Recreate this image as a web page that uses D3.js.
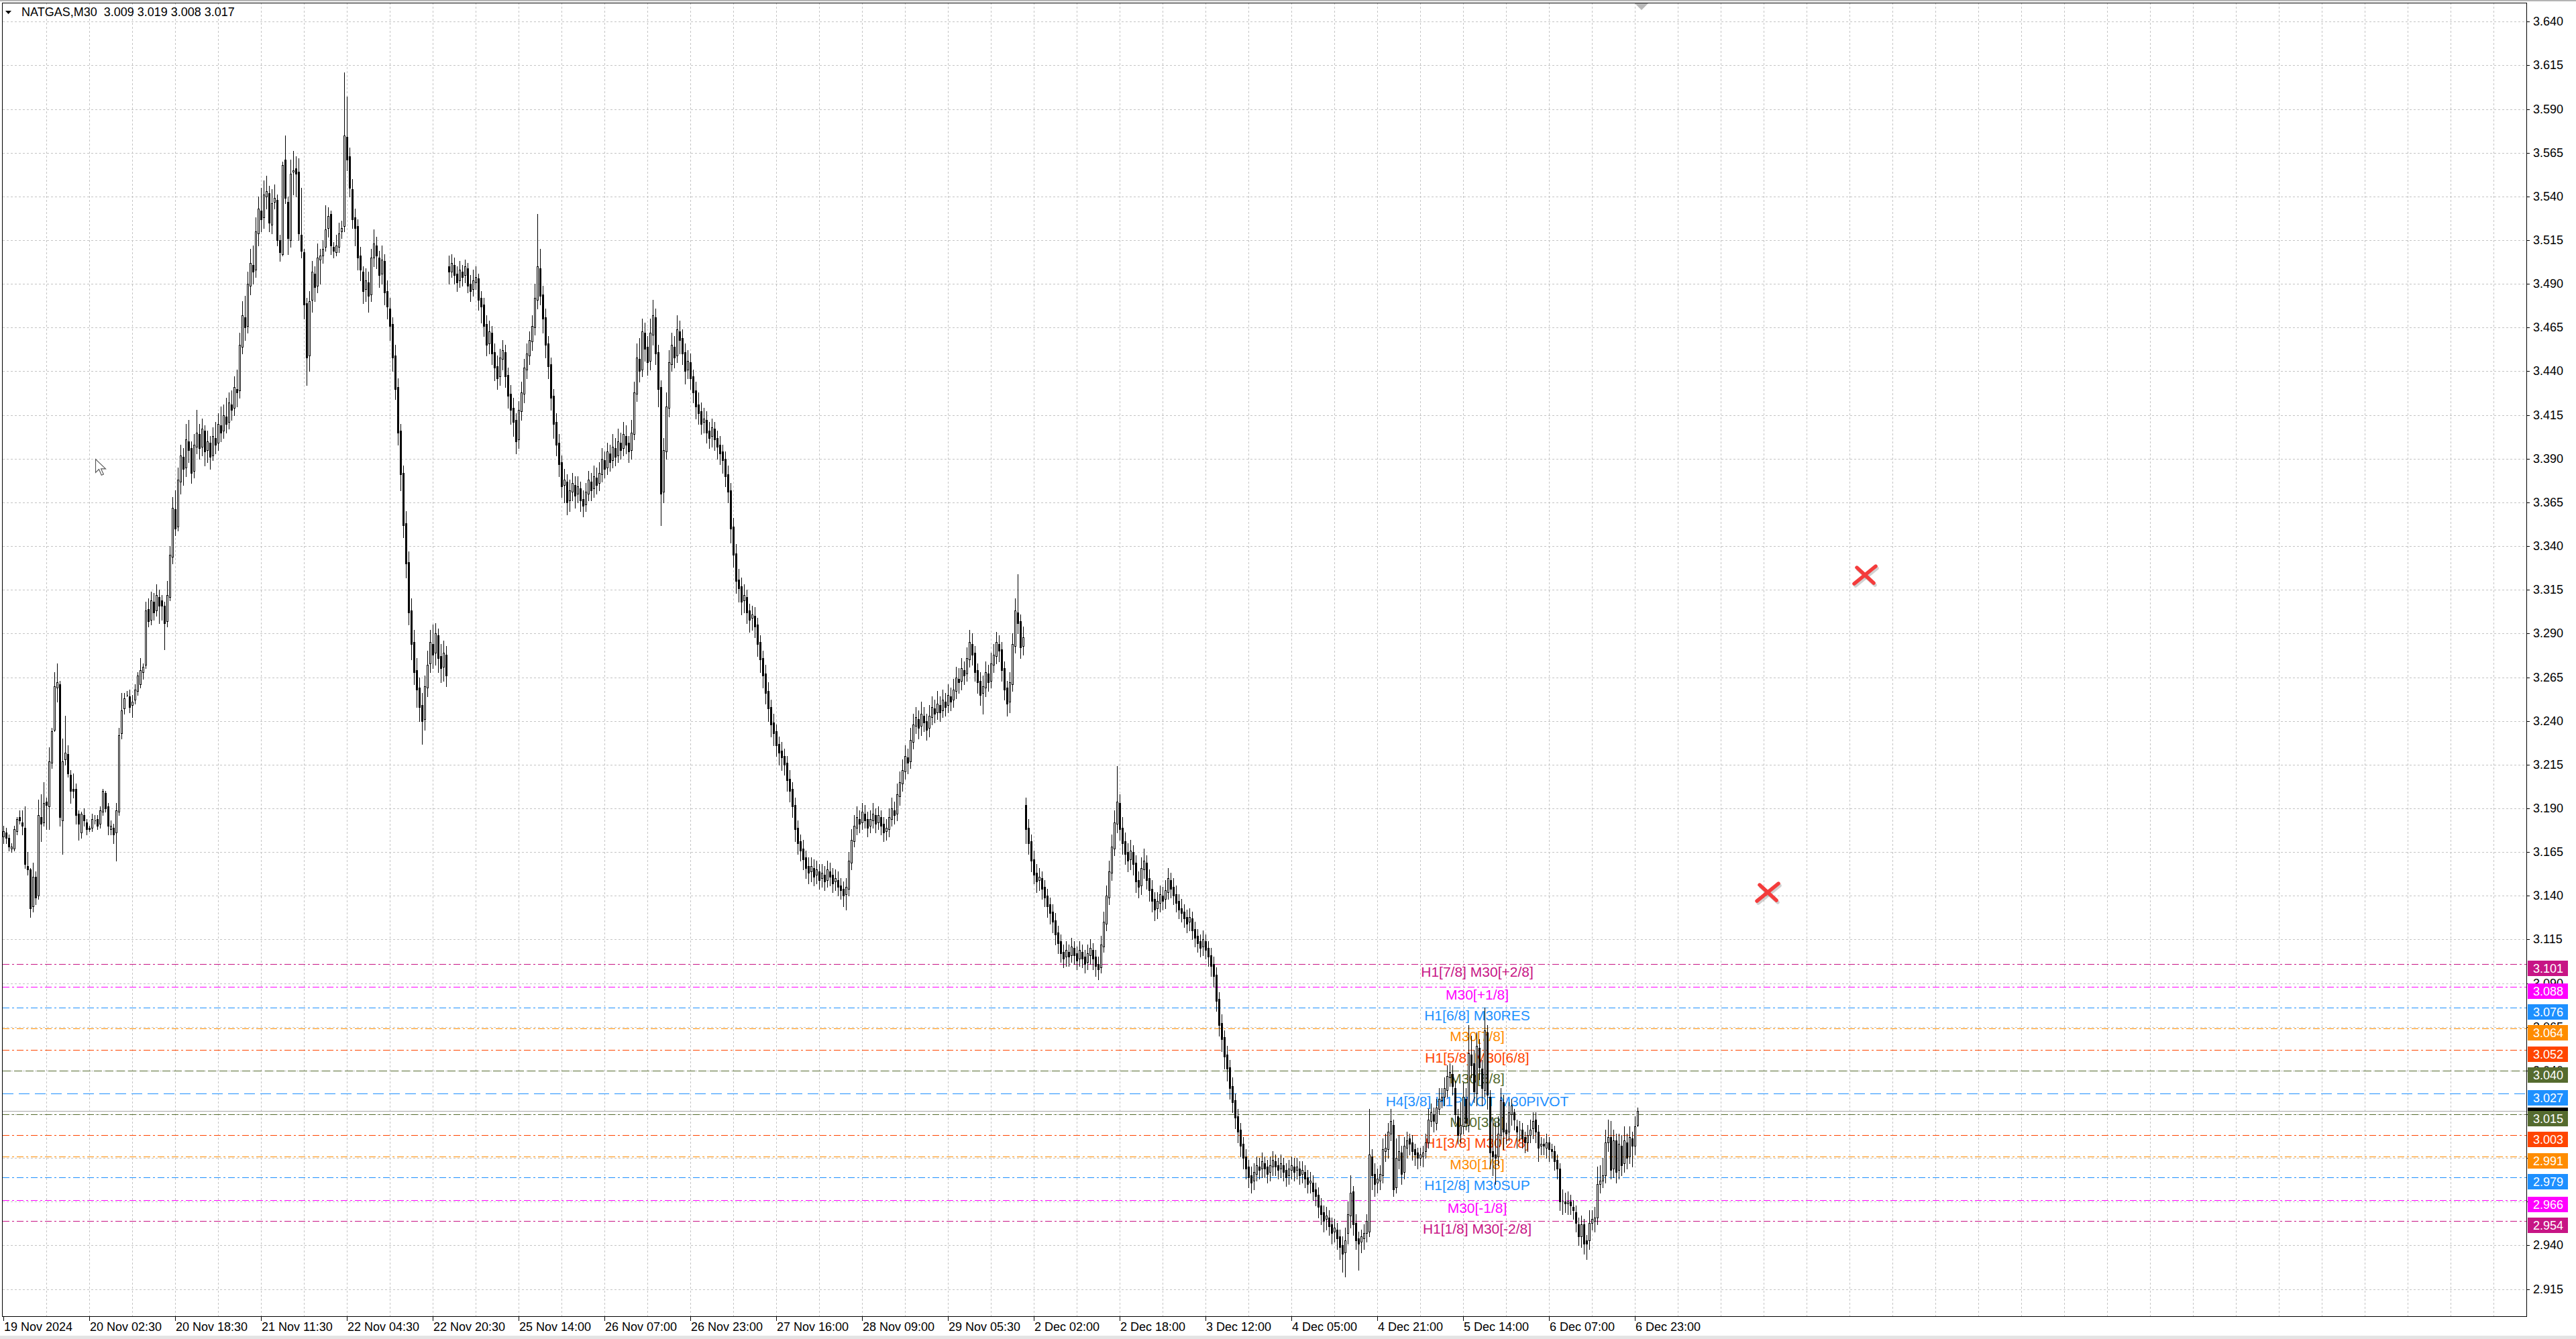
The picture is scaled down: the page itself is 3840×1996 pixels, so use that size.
<!DOCTYPE html>
<html><head><meta charset="utf-8">
<script src="https://cdn.jsdelivr.net/npm/d3@7"></script>
<style>html,body{margin:0;padding:0;background:#fff;overflow:hidden}</style>
</head><body><svg id="c" width="3840" height="1996"></svg>
<script>
// ---------- DATA (prices in thousandths) ----------
const symbolTitle = "NATGAS,M30  3.009 3.019 3.008 3.017";
const opens = [
3174,3176,3173,3167,3167,3177,3185,3182,3179,3157,
3155,3134,3151,3140,3185,3182,3194,3191,3216,3235,
3259,3261,3183,3218,3221,3209,3201,3201,3187,3176,
3186,3182,3179,3179,3183,3184,3181,3188,3199,3191,
3178,3179,3176,3188,3233,3247,3255,3254,3249,3252,
3257,3261,3268,3272,3304,3298,3308,3303,3311,3309,
3306,3297,3311,3334,3361,3351,3377,3391,3385,3400,
3396,3383,3397,3404,3397,3406,3395,3399,3392,3402,
3399,3409,3406,3414,3411,3421,3419,3430,3429,3454,
3471,3466,3489,3501,3498,3519,3532,3528,3540,3542,
3524,3537,3538,3515,3507,3561,3537,3515,3554,3556,
3554,3518,3508,3479,3449,3481,3496,3489,3504,3506,
3511,3522,3530,3511,3508,3511,3520,3523,3574,3563,
3544,3528,3523,3506,3497,3487,3491,3484,3505,3512,
3505,3496,3503,3486,3476,3467,3449,3431,3406,3382,
3353,3331,3303,3285,3269,3259,3249,3241,3259,3273,
3284,3279,3289,3277,3271,3278,
3500,3497,3501,3496,3492,3497,3495,3499,3490,3487,
3491,3493,3482,3478,3467,3456,3462,3451,3443,3437,
3447,3451,3438,3427,3419,3412,3401,3417,3427,3441,
3449,3457,3465,3481,3499,3484,3471,3456,3444,3426,
3411,3399,3388,3375,3377,3366,3371,3375,3370,3373,
3367,3364,3370,3377,3373,3379,3376,3381,3389,3385,
3393,3389,3396,3392,3399,3396,3403,3399,3395,3404,
3427,3447,3441,3462,3454,3446,3461,3471,3451,3431,
3371,3394,3419,3444,3454,3449,3463,3459,3451,3441,
3445,3437,3429,3421,3417,3411,3412,3406,3403,3407,
3402,3398,3394,3390,3381,3372,3351,3336,3321,3317,
3309,3311,3303,3299,3300,3295,3285,3276,3267,3257,
3248,3239,3234,3227,3223,3220,3216,3207,3201,3192,
3179,3171,3167,3162,3157,3154,3156,3152,3154,3150,
3152,3149,3154,3152,3148,3149,3146,3144,3141,3144,
3159,3171,3179,3184,3182,3187,3184,3180,3183,3186,
3182,3185,3181,3177,3178,3184,3189,3187,3197,3204,
3211,3219,3217,3228,3237,3241,3237,3243,3240,3236,
3242,3247,3245,3249,3246,3251,3249,3254,3252,3257,
3264,3263,3269,3267,3275,3284,3279,3269,3263,3256,
3259,3267,3263,3272,3277,3284,3281,3270,3259,3251,
3261,3283,3302,3297,3283,
3192,3179,3171,3161,3153,3149,3150,3145,3140,3135,
3131,3126,3119,3114,3108,3105,3108,3106,3110,3107,
3104,3108,3105,3102,3106,3109,3105,3101,3099,3111,
3124,3139,3153,3167,3181,3193,3179,3171,3165,3161,
3165,3159,3149,3146,3155,3159,3150,3144,3138,3133,
3136,3140,3138,3142,3149,3145,3141,3137,3133,3131,
3128,3125,3127,3121,3117,3114,3111,3114,3110,3106,
3101,3095,3081,3067,3059,3049,3042,3031,3023,3014,
3006,2998,2991,2985,2980,2977,2981,2985,2984,2987,
2985,2982,2985,2988,2986,2984,2986,2983,2980,2983,
2985,2983,2984,2981,2982,2979,2976,2976,2972,2969,
2963,2959,2955,2956,2952,2948,2949,2945,2940,2936,
2947,2957,2971,2953,2944,2942,2944,2947,2948,2991,
2981,2976,2977,2980,2994,2995,3004,3009,2973,2989,
2993,2982,2996,3001,2999,2995,2993,2990,2991,2994,
2999,3011,3015,3010,3018,3023,3025,3029,3036,3038,
3030,3014,3004,3008,3024,3009,3049,3044,3027,3053,
3041,3029,3062,3025,2994,2992,2991,3003,3022,3006,
3005,3015,3016,3008,3006,3006,3002,2999,3003,3007,
3012,3005,2997,2998,2996,2999,2995,2994,2989,2984,
2965,2965,2964,2965,2962,2959,2952,2945,2952,2943,
2943,2953,2954,2956,2975,2977,2980,2999,3002,2984,
3000,2983,2997,2987,2999,2991,3001,2997,3009];
const highs = [
3180,3179,3175,3170,3180,3185,3189,3189,3191,3165,
3156,3159,3154,3195,3198,3205,3196,3225,3236,3268,
3273,3263,3230,3243,3226,3212,3210,3204,3189,3188,
3190,3184,3180,3187,3186,3186,3191,3201,3200,3193,
3183,3181,3193,3236,3256,3256,3257,3258,3255,3261,
3268,3276,3273,3308,3310,3314,3313,3318,3315,3312,
3308,3320,3340,3368,3372,3385,3398,3396,3410,3412,
3400,3404,3418,3410,3413,3409,3406,3403,3408,3411,
3416,3420,3421,3425,3428,3429,3437,3441,3462,3480,
3483,3497,3510,3512,3528,3540,3545,3549,3552,3546,
3544,3547,3541,3518,3560,3575,3540,3561,3566,3563,
3562,3545,3510,3482,3486,3503,3500,3513,3510,3515,
3535,3534,3532,3514,3518,3525,3526,3611,3597,3568,
3550,3533,3527,3511,3500,3499,3497,3510,3521,3517,
3509,3512,3507,3492,3482,3471,3455,3436,3410,3386,
3360,3337,3310,3292,3276,3265,3256,3266,3280,3292,
3295,3296,3293,3284,3286,3283,
3506,3507,3505,3500,3503,3501,3504,3502,3495,3498,
3500,3496,3486,3482,3472,3469,3466,3456,3449,3453,
3458,3455,3442,3432,3425,3416,3423,3434,3447,3456,
3463,3472,3490,3530,3510,3489,3476,3460,3448,3430,
3416,3404,3392,3384,3381,3378,3382,3380,3380,3377,
3372,3376,3383,3382,3386,3385,3388,3396,3394,3399,
3398,3404,3402,3407,3405,3411,3409,3403,3412,3434,
3456,3459,3470,3468,3460,3470,3481,3476,3455,3435,
3402,3428,3452,3462,3460,3472,3469,3464,3456,3452,
3450,3441,3434,3428,3422,3419,3417,3411,3413,3411,
3406,3403,3398,3394,3386,3376,3356,3341,3327,3322,
3318,3315,3307,3306,3305,3299,3289,3280,3272,3262,
3252,3244,3238,3231,3228,3224,3220,3212,3205,3196,
3183,3175,3172,3166,3162,3162,3161,3160,3158,3158,
3157,3160,3159,3156,3155,3154,3150,3148,3150,3165,
3178,3186,3191,3189,3193,3192,3188,3189,3193,3190,
3191,3189,3185,3184,3190,3196,3194,3204,3211,3218,
3226,3224,3236,3244,3248,3246,3251,3248,3244,3249,
3254,3252,3257,3254,3258,3256,3261,3259,3264,3271,
3270,3276,3274,3282,3292,3290,3283,3273,3268,3266,
3274,3272,3279,3284,3291,3289,3285,3274,3263,3268,
3290,3310,3324,3301,3294,
3196,3184,3175,3166,3158,3156,3154,3149,3144,3139,
3135,3130,3123,3118,3112,3114,3112,3116,3114,3111,
3114,3112,3109,3112,3115,3113,3109,3105,3117,3131,
3146,3160,3175,3189,3214,3198,3185,3176,3170,3172,
3169,3163,3154,3162,3167,3163,3155,3149,3142,3142,
3146,3145,3149,3156,3153,3150,3146,3141,3138,3135,
3132,3133,3131,3125,3121,3118,3120,3118,3114,3110,
3105,3099,3085,3072,3063,3054,3046,3036,3027,3018,
3010,3002,2995,2989,2985,2987,2991,2990,2993,2991,
2989,2991,2994,2992,2990,2992,2990,2987,2989,2991,
2990,2990,2988,2988,2986,2983,2982,2980,2976,2973,
2967,2963,2962,2960,2956,2955,2953,2949,2945,2950,
2965,2980,2974,2958,2948,2949,2952,2958,3018,2995,
2987,2984,2986,3001,3004,3010,3018,3012,3001,3003,
2997,3002,3005,3004,3003,2998,2996,2996,2997,3004,
3018,3021,3019,3024,3030,3030,3036,3043,3044,3043,
3034,3018,3022,3033,3030,3066,3060,3052,3062,3058,
3046,3076,3066,3029,3013,3010,3014,3030,3026,3010,
3022,3024,3018,3012,3011,3010,3005,3009,3012,3016,
3016,3009,3002,3001,3004,3002,2998,2997,2992,2987,
2972,2970,2971,2969,2966,2963,2956,2957,2955,2946,
2960,2960,2962,2985,2986,2990,3006,3012,3011,3006,
3004,3004,3003,3008,3004,3008,3005,3014,3019];
const lows = [
3170,3170,3166,3165,3166,3175,3181,3175,3156,3152,
3128,3131,3135,3138,3171,3180,3178,3178,3213,3234,
3251,3180,3164,3215,3208,3193,3196,3181,3172,3173,
3180,3175,3177,3177,3181,3178,3179,3186,3188,3175,
3175,3170,3160,3186,3230,3244,3254,3245,3242,3250,
3255,3259,3264,3270,3294,3295,3298,3300,3296,3298,
3281,3294,3309,3330,3346,3349,3370,3375,3380,3388,
3376,3379,3393,3390,3392,3386,3388,3384,3389,3393,
3395,3400,3402,3405,3407,3412,3415,3420,3425,3450,
3458,3462,3484,3490,3494,3512,3520,3522,3533,3520,
3519,3533,3512,3503,3506,3536,3507,3511,3541,3540,
3515,3505,3470,3432,3440,3474,3480,3485,3490,3502,
3509,3517,3507,3505,3506,3508,3516,3520,3555,3540,
3522,3512,3498,3492,3479,3480,3474,3480,3500,3499,
3488,3490,3478,3470,3458,3440,3424,3398,3372,3345,
3322,3295,3275,3261,3248,3240,3227,3235,3254,3268,
3270,3272,3268,3262,3263,3260,
3490,3494,3490,3486,3488,3489,3491,3485,3480,3483,
3487,3475,3468,3460,3449,3450,3444,3435,3430,3432,
3441,3431,3419,3410,3403,3393,3396,3412,3422,3436,
3444,3452,3461,3476,3478,3462,3448,3436,3418,3402,
3392,3380,3368,3365,3358,3360,3366,3362,3365,3360,
3357,3360,3366,3366,3368,3370,3372,3377,3379,3381,
3383,3385,3386,3388,3390,3392,3393,3388,3390,3401,
3423,3434,3437,3446,3438,3441,3455,3444,3420,3352,
3365,3390,3414,3440,3442,3445,3450,3444,3433,3436,
3430,3422,3413,3410,3404,3405,3399,3396,3397,3395,
3390,3387,3382,3374,3365,3342,3328,3313,3308,3301,
3302,3296,3291,3292,3288,3277,3268,3259,3250,3240,
3231,3226,3220,3215,3212,3209,3200,3194,3185,3171,
3164,3160,3155,3150,3147,3148,3146,3147,3144,3145,
3143,3145,3146,3142,3143,3140,3138,3134,3132,3140,
3155,3168,3175,3176,3178,3179,3174,3176,3179,3176,
3178,3175,3171,3172,3174,3180,3181,3183,3192,3200,
3207,3210,3213,3224,3233,3230,3232,3234,3229,3231,
3238,3239,3241,3240,3242,3243,3245,3246,3248,3253,
3256,3258,3261,3263,3271,3272,3263,3256,3249,3244,
3254,3257,3259,3268,3273,3274,3263,3252,3243,3245,
3257,3279,3290,3276,3278,
3170,3164,3154,3147,3142,3143,3138,3134,3128,3124,
3119,3112,3107,3102,3099,3100,3100,3102,3101,3098,
3100,3099,3096,3098,3101,3098,3094,3092,3096,3108,
3120,3135,3149,3163,3176,3172,3164,3158,3154,3155,
3152,3142,3139,3141,3150,3144,3137,3131,3126,3127,
3131,3132,3133,3138,3139,3135,3131,3127,3125,3122,
3119,3120,3115,3111,3108,3105,3106,3104,3100,3094,
3088,3074,3060,3051,3041,3034,3024,3016,3007,2999,
2991,2984,2978,2973,2970,2972,2977,2978,2979,2979,
2976,2977,2980,2980,2978,2979,2977,2974,2975,2978,
2977,2978,2975,2976,2973,2970,2970,2966,2963,2956,
2952,2948,2949,2946,2941,2942,2938,2932,2925,2922,
2941,2950,2946,2938,2926,2936,2938,2942,2945,2972,
2968,2970,2972,2976,2988,2990,3000,2968,2970,2984,
2975,2978,2990,2992,2989,2986,2984,2986,2985,2990,
2996,3008,3005,3006,3015,3019,3020,3025,3031,3026,
3010,2998,2999,3004,3006,3005,3036,3022,3020,3035,
3020,3025,3018,2984,2980,2975,2986,2998,2995,2998,
3000,3009,3006,2996,3000,2996,2993,2994,2999,3001,
2999,2988,2992,2992,2990,2988,2990,2983,2978,2960,
2958,2959,2958,2958,2955,2948,2940,2939,2935,2932,
2938,2949,2948,2952,2970,2973,2976,2994,2978,2979,
2976,2978,2980,2982,2984,2987,2985,2992,3008];
const closes = [
3177,3173,3168,3168,3178,3184,3183,3180,3158,3155,
3133,3151,3139,3186,3181,3193,3192,3217,3234,3260,
3262,3185,3217,3222,3210,3200,3200,3186,3181,3187,
3183,3178,3178,3184,3183,3180,3189,3200,3190,3180,
3180,3175,3189,3232,3246,3253,3255,3248,3251,3258,
3266,3269,3271,3303,3297,3309,3302,3312,3306,3306,
3296,3312,3335,3362,3350,3378,3392,3384,3401,3395,
3382,3398,3405,3396,3407,3394,3400,3391,3403,3398,
3410,3405,3415,3410,3422,3418,3431,3428,3455,3472,
3465,3490,3502,3497,3520,3533,3527,3541,3543,3525,
3536,3539,3515,3508,3558,3539,3516,3553,3555,3553,
3519,3509,3478,3448,3480,3497,3488,3505,3506,3510,
3521,3529,3512,3509,3512,3519,3522,3575,3561,3545,
3527,3522,3505,3498,3486,3492,3483,3505,3513,3506,
3495,3504,3485,3477,3466,3448,3430,3405,3381,3352,
3330,3302,3284,3268,3258,3248,3240,3260,3272,3285,
3278,3290,3276,3270,3279,3266,
3497,3502,3495,3491,3498,3494,3500,3489,3486,3492,
3494,3481,3477,3466,3455,3463,3450,3442,3436,3448,
3452,3437,3426,3418,3411,3400,3418,3428,3442,3450,
3458,3466,3482,3500,3483,3470,3455,3443,3425,3410,
3398,3387,3374,3378,3365,3372,3376,3369,3374,3366,
3363,3371,3378,3372,3380,3375,3382,3390,3384,3394,
3388,3397,3391,3400,3395,3404,3398,3394,3405,3428,
3448,3440,3463,3453,3445,3462,3472,3450,3430,3370,
3395,3420,3445,3455,3448,3464,3458,3450,3440,3446,
3436,3428,3420,3416,3410,3413,3405,3402,3408,3401,
3397,3393,3389,3380,3371,3350,3335,3320,3316,3308,
3312,3302,3298,3301,3294,3284,3275,3266,3256,3247,
3238,3233,3226,3222,3219,3215,3206,3200,3191,3178,
3170,3166,3161,3156,3153,3157,3151,3155,3149,3153,
3148,3155,3151,3147,3150,3145,3143,3140,3145,3160,
3172,3180,3185,3181,3188,3183,3179,3184,3187,3181,
3186,3180,3176,3179,3185,3190,3186,3198,3205,3212,
3220,3216,3229,3238,3242,3236,3244,3239,3235,3243,
3248,3244,3250,3245,3252,3248,3255,3251,3258,3265,
3262,3270,3266,3276,3285,3278,3268,3262,3255,3260,
3268,3262,3273,3278,3285,3280,3269,3258,3250,3262,
3284,3303,3296,3282,3288,
3178,3170,3160,3152,3148,3151,3144,3139,3134,3130,
3125,3118,3113,3107,3104,3109,3105,3111,3106,3103,
3109,3104,3101,3107,3110,3104,3100,3098,3112,3125,
3140,3154,3168,3182,3194,3178,3170,3164,3160,3166,
3158,3148,3145,3156,3160,3149,3143,3137,3132,3137,
3141,3137,3143,3150,3144,3140,3136,3132,3130,3127,
3124,3128,3120,3116,3113,3110,3115,3109,3105,3100,
3094,3080,3066,3058,3048,3041,3030,3022,3013,3005,
2997,2990,2984,2979,2976,2982,2986,2983,2988,2984,
2981,2986,2989,2985,2983,2987,2982,2979,2984,2986,
2982,2985,2980,2983,2978,2975,2977,2971,2968,2962,
2958,2954,2957,2951,2947,2950,2944,2939,2935,2943,
2958,2970,2952,2943,2941,2945,2947,2954,2992,2980,
2975,2978,2981,2995,2996,3005,3011,2972,2990,2994,
2981,2997,3000,2998,2994,2992,2990,2992,2993,2999,
3012,3016,3011,3019,3024,3025,3030,3037,3039,3031,
3015,3003,3009,3025,3010,3050,3043,3028,3054,3042,
3030,3063,3026,2993,2991,2990,3004,3023,3005,3004,
3016,3020,3012,3005,3006,3001,2999,3003,3006,3011,
3005,2996,2998,2997,2999,2995,2994,2988,2984,2965,
2965,2964,2965,2963,2960,2953,2945,2952,2941,2941,
2953,2955,2956,2975,2977,2980,2999,3002,2983,3000,
2982,2998,2986,3000,2990,3002,2997,3008,3017];

const timeLabels = ["19 Nov 2024","20 Nov 02:30","20 Nov 18:30","21 Nov 11:30","22 Nov 04:30","22 Nov 20:30","25 Nov 14:00","26 Nov 07:00","26 Nov 23:00","27 Nov 16:00","28 Nov 09:00","29 Nov 05:30","2 Dec 02:00","2 Dec 18:00","3 Dec 12:00","4 Dec 05:00","4 Dec 21:00","5 Dec 14:00","6 Dec 07:00","6 Dec 23:00"];
const timeLabelBars = [0,32,64,96,128,160,192,224,256,288,320,352,384,416,448,480,512,544,576,608];
const priceTickLabels = ["3.640","3.615","3.590","3.565","3.540","3.515","3.490","3.465","3.440","3.415","3.390","3.365","3.340","3.315","3.290","3.265","3.240","3.215","3.190","3.165","3.140","3.115","3.090","3.065","3.040","3.015","2.990","2.965","2.940","2.915"];
const levelValues = [3.101,3.088,3.076,3.064,3.052,3.040,3.027,3.015,3.003,2.991,2.979,2.966,2.954];
const levelLabels = ["H1[7/8] M30[+2/8]","M30[+1/8]","H1[6/8] M30RES","M30[7/8]","H1[5/8] M30[6/8]","M30[5/8]","H4[3/8] H1PIVOT M30PIVOT","M30[3/8]","H1[3/8] M30[2/8]","M30[1/8]","H1[2/8] M30SUP","M30[-1/8]","H1[1/8] M30[-2/8]"];
const currentPrice = 3.017;
const markerBars = [693.75, 657.5];
const markerPrices = [3.3235, 3.142];

// ---------- STYLE ----------
const levelColors = ["#C71585","#FF00FF","#1E90FF","#FF8C00","#FF4500","#556B2F","#1E90FF","#556B2F","#FF4500","#FF8C00","#1E90FF","#FF00FF","#C71585"];
const DD = "10,4,3,4", DA = "12,5", LD = "16,8";
const levelDash = [DD,DD,DD,DD,DD,DA,LD,DD,DD,DD,DD,DD,DD];
const AX_FONT = "'Liberation Sans', Arial, sans-serif";

// ---------- LAYOUT ----------
const W = 3840, H = 1996;
const plotL = 4, plotR = 3766, plotT = 4, plotB = 1962;
const xs = d3.scaleLinear().domain([0, 1]).range([5, 9]);          // 4 px per bar
const ys = d3.scaleLinear().domain([2.915, 3.640]).range([1921.6, 32.3]);
const svg = d3.select("#c");
svg.append("rect").attr("width", W).attr("height", H).attr("fill", "#fff");
svg.append("rect").attr("x",0).attr("y",0).attr("width",W).attr("height",2).attr("fill","#b4b4b4");
svg.append("rect").attr("x",0).attr("y",1991).attr("width",W).attr("height",5).attr("fill","#e4e4e4");

svg.append("defs").append("clipPath").attr("id","pc").append("rect")
  .attr("x", plotL).attr("y", plotT).attr("width", plotR - plotL).attr("height", plotB - plotT);
const plot = svg.append("g").attr("clip-path","url(#pc)");

// grid
const gridG = plot.append("g").attr("stroke","#c4c4c4").attr("stroke-width",1).attr("stroke-dasharray","3,3").attr("shape-rendering","crispEdges");
priceTickLabels.forEach(t => {
  const yy = Math.round(ys(+t)) + 0.5;
  gridG.append("line").attr("x1", plotL).attr("x2", plotR).attr("y1", yy).attr("y2", yy);
});
for (let b = 16; xs(b) < plotR; b += 16) {
  const xx = Math.round(xs(b)) + 0.5;
  gridG.append("line").attr("x1", xx).attr("x2", xx).attr("y1", plotT).attr("y2", plotB);
}

// level lines
levelValues.forEach((v, k) => {
  const yy = Math.round(ys(v)) + 0.5;
  plot.append("line").attr("x1", plotL).attr("x2", plotR).attr("y1", yy).attr("y2", yy)
    .attr("stroke", levelColors[k]).attr("stroke-width", 1).attr("stroke-dasharray", levelDash[k])
    .attr("shape-rendering","crispEdges");
});
// bid line
{
  const yy = Math.round(ys(currentPrice)) + 0.5;
  plot.append("line").attr("x1", plotL).attr("x2", plotR).attr("y1", yy).attr("y2", yy)
    .attr("stroke", "#a8a8a8").attr("stroke-width", 1).attr("shape-rendering","crispEdges");
}
// level texts
levelValues.forEach((v, k) => {
  plot.append("text").attr("x", 2202).attr("y", ys(v) + 19).attr("text-anchor","middle")
    .attr("font-family", AX_FONT).attr("font-size", 21).attr("fill", levelColors[k]).text(levelLabels[k]);
});

// candles
const cg = plot.append("g").attr("shape-rendering","crispEdges");
const n = Math.min(opens.length, highs.length, lows.length, closes.length);
for (let i = 0; i < n; i++) {
  const o = opens[i]/1000, h = highs[i]/1000, l = lows[i]/1000, c = closes[i]/1000;
  const p = Math.round(xs(i));
  cg.append("line").attr("x1", p + 0.5).attr("x2", p + 0.5)
    .attr("y1", Math.round(ys(h))).attr("y2", Math.round(ys(l)) + 1).attr("stroke", "#000").attr("stroke-width", 1);
  const t = Math.round(ys(Math.max(o, c))) + 0.5, bt = Math.round(ys(Math.min(o, c))) + 0.5;
  cg.append("path").attr("d", `M${p-0.5},${t}H${p+1.5}V${bt}H${p-0.5}Z`)
    .attr("fill", c >= o ? "#fff" : "#000").attr("stroke", "#000").attr("stroke-width", 1);
}

// red markers
markerBars.forEach((b, k) => {
  const cx = xs(b), cy = ys(markerPrices[k]);
  const g = svg.append("g").attr("stroke-linecap","round");
  [[2,3,"rgba(0,0,0,0.18)"],[0,0,"#f43c3c"]].forEach(([dx,dy,col]) => {
    g.append("line").attr("x1", cx-16+dx).attr("y1", cy+13+dy).attr("x2", cx+16+dx).attr("y2", cy-13+dy).attr("stroke", col).attr("stroke-width", 5.5);
    g.append("line").attr("x1", cx-12+dx).attr("y1", cy-11+dy).attr("x2", cx+13+dx).attr("y2", cy+12+dy).attr("stroke", col).attr("stroke-width", 5.5);
  });
});

// mouse cursor
{
  const cx = Math.round(xs(34.25)), cy = Math.round(ys(3.390));
  svg.append("path").attr("transform", `translate(${cx+0.5},${cy+0.5}) scale(1.25)`)
    .attr("d","M0,0 L0,16 L4,12 L7,19 L9.5,18 L6.5,11.5 L12,11.5 Z")
    .attr("fill","#fff").attr("stroke","#555").attr("stroke-width",0.9);
}

// frame
const fr = svg.append("g").attr("stroke","#000").attr("stroke-width",1).attr("shape-rendering","crispEdges");
fr.append("line").attr("x1", 3).attr("x2", plotR).attr("y1", plotT + 0.5).attr("y2", plotT + 0.5);
fr.append("line").attr("x1", 3.5).attr("x2", 3.5).attr("y1", plotT).attr("y2", plotB + 1);
fr.append("line").attr("x1", plotR + 0.5).attr("x2", plotR + 0.5).attr("y1", plotT).attr("y2", plotB + 1);
fr.append("line").attr("x1", 3).attr("x2", plotR + 1).attr("y1", plotB + 0.5).attr("y2", plotB + 0.5);

// shift marker
{
  const sx = xs(610.5);
  svg.append("path").attr("d", `M${sx-10},5 L${sx+10},5 L${sx},15 Z`).attr("fill","#b8b8b8");
}

// price axis
priceTickLabels.forEach(t => {
  const yy = Math.round(ys(+t)) + 0.5;
  fr.append("line").attr("x1", plotR).attr("x2", plotR + 5).attr("y1", yy).attr("y2", yy);
  svg.append("text").attr("x", 3776).attr("y", ys(+t)).attr("dominant-baseline","central")
    .attr("font-family", AX_FONT).attr("font-size", 18).attr("fill","#000").text(t);
});

// current price box (under level boxes)
{
  const yy = Math.round(ys(currentPrice));
  svg.append("rect").attr("x", 3768).attr("y", yy - 5).attr("width", 60).attr("height", 23).attr("fill","#000");
  svg.append("text").attr("x", 3776).attr("y", yy + 6.5).attr("dominant-baseline","central")
    .attr("font-family", AX_FONT).attr("font-size", 18).attr("fill","#fff").text(d3.format(".3f")(currentPrice));
}
levelValues.forEach((v, k) => {
  const yy = Math.round(ys(v));
  svg.append("rect").attr("x", 3768).attr("y", yy - 5).attr("width", 60).attr("height", 23).attr("fill", levelColors[k]);
  svg.append("text").attr("x", 3776).attr("y", yy + 6.5).attr("dominant-baseline","central")
    .attr("font-family", AX_FONT).attr("font-size", 18).attr("fill","#fff").text(d3.format(".3f")(v));
});

// time axis
timeLabels.forEach((t, k) => {
  const xx = Math.round(xs(timeLabelBars[k]));
  fr.append("line").attr("x1", xx + 0.5).attr("x2", xx + 0.5).attr("y1", plotB).attr("y2", plotB + 7);
  svg.append("text").attr("x", xx + 1).attr("y", 1984).attr("font-family", AX_FONT).attr("font-size", 18)
    .attr("fill","#000").text(t);
});

// header
svg.append("path").attr("d","M8,16 L17,16 L12.5,21 Z").attr("fill","#000");
svg.append("text").attr("x", 32).attr("y", 24).attr("font-family", AX_FONT).attr("font-size", 18)
  .attr("fill","#000").style("white-space","pre").attr("xml:space","preserve").text(symbolTitle);
</script>
</body></html>
